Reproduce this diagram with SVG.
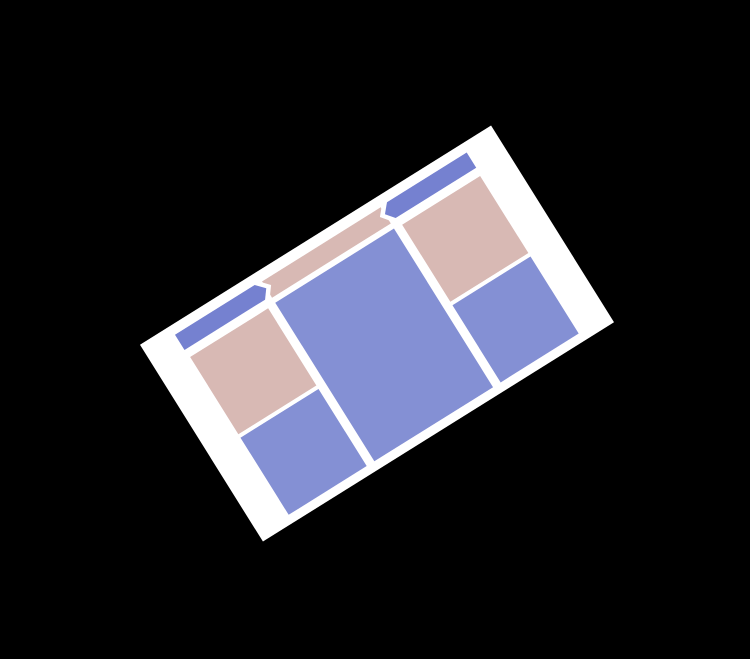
<svg xmlns="http://www.w3.org/2000/svg" width="750" height="659" viewBox="0 0 750 659">
<style>
.card{fill:#ffffff}
.pink{fill:#d8b9b4}
.blue{fill:#8490d4}
.hdr{fill:#7581d0;stroke:#ffffff;stroke-width:9;paint-order:stroke;stroke-linejoin:miter}
</style>
<rect x="0" y="0" width="750" height="659" fill="#000000"/>
<g transform="translate(377,333.5) rotate(-32)">
  <g id="card"><rect class="card" x="-207" y="-116" width="414" height="232"/></g>
  <g id="center-header"><rect class="pink" x="-70" y="-105" width="140" height="19"/></g>
  <g id="left-header"><polygon class="hdr" points="-172,-106 -78,-106 -70,-97 -77,-88 -172,-88"/></g>
  <g id="right-header"><polygon class="hdr" points="172,-106 78,-106 70,-97 77,-88 172,-88"/></g>
  <g id="left-top"><rect class="pink" x="-171" y="-79" width="92" height="91"/></g>
  <g id="left-bottom"><rect class="blue" x="-171" y="16" width="92" height="91"/></g>
  <g id="main"><rect class="blue" x="-70" y="-80" width="140" height="187"/></g>
  <g id="right-top"><rect class="pink" x="79" y="-79" width="92" height="91"/></g>
  <g id="right-bottom"><rect class="blue" x="79" y="16" width="92" height="91"/></g>
</g>
<g id="connectors"></g>
</svg>
